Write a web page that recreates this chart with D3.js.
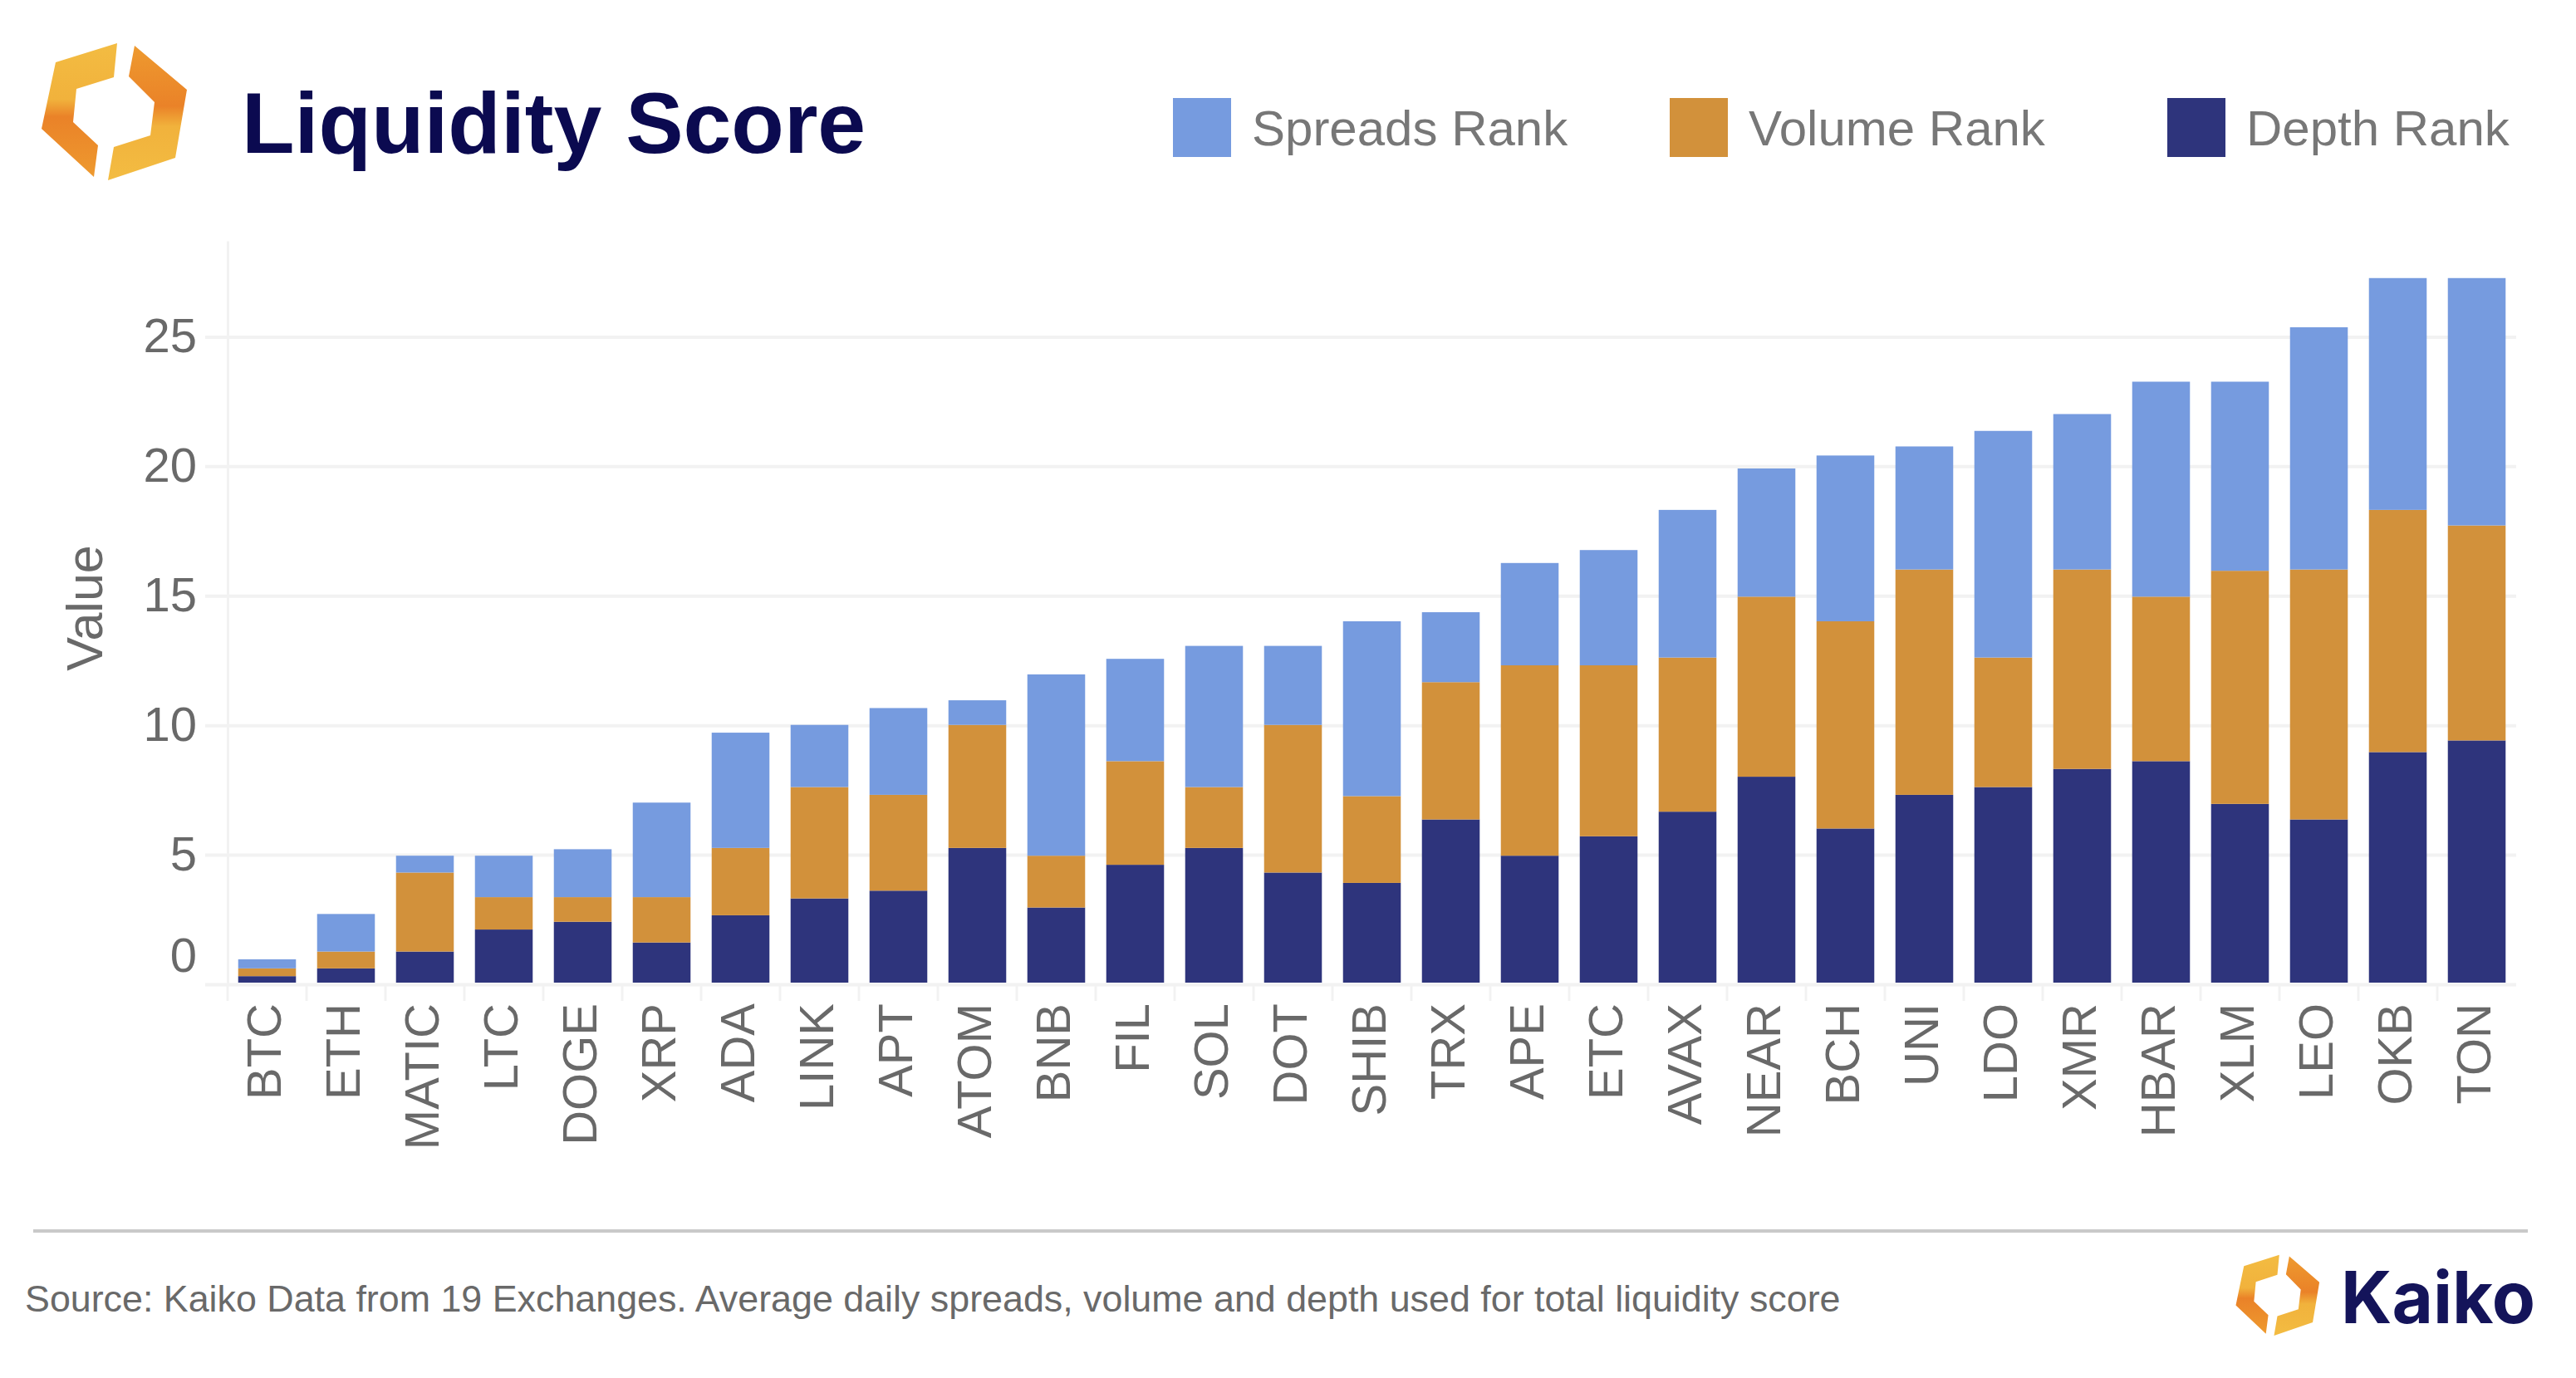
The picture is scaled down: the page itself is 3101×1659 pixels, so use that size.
<!DOCTYPE html>
<html>
<head>
<meta charset="utf-8">
<title>Liquidity Score</title>
<script src="https://cdn.jsdelivr.net/npm/d3@7"></script>
<style>
    body { margin: 0; background: white; }
    text { font-family: "Liberation Sans", Arial, sans-serif; }
</style>
</head>
<body>
<script>
const svg_width = 3101;
const svg_height = 1659;

const tokens = ['BTC', 'ETH', 'MATIC', 'LTC', 'DOGE', 'XRP', 'ADA', 'LINK', 'APT', 'ATOM', 'BNB', 'FIL', 'SOL', 'DOT', 'SHIB',
    'TRX', 'APE', 'ETC', 'AVAX', 'NEAR', 'BCH', 'UNI', 'LDO', 'XMR', 'HBAR', 'XLM', 'LEO', 'OKB', 'TON'];
const depth_rank = [0.25, 0.55, 1.2, 2.05, 2.35, 1.55, 2.6, 3.25, 3.55, 5.2, 2.9, 4.55, 5.2, 4.25, 3.85,
    6.3, 4.9, 5.65, 6.6, 7.95, 5.95, 7.25, 7.55, 8.25, 8.55, 6.9, 6.3, 8.9, 9.35];
const volume_rank = [0.3, 0.65, 3.05, 1.25, 0.95, 1.75, 2.6, 4.3, 3.7, 4.75, 2, 4, 2.35, 5.7, 3.35,
    5.3, 7.35, 6.6, 5.95, 6.95, 8, 8.7, 5, 7.7, 6.35, 9, 9.65, 9.35, 8.3];
const spreads_rank = [0.35, 1.45, 0.65, 1.6, 1.85, 3.65, 4.45, 2.4, 3.35, 0.95, 7, 3.95, 5.45, 3.05, 6.75,
    2.7, 3.95, 4.45, 5.7, 4.95, 6.4, 4.75, 8.75, 6, 8.3, 7.3, 9.35, 8.95, 9.55];
const y_ticks = [0, 5, 10, 15, 20, 25];
const y_max = 28.7;

const series_names = ['Depth Rank', 'Volume Rank', 'Spreads Rank'];
const series_colors = ['#2e347c', '#d2913b', '#769bdf'];
const legend_order = ['Spreads Rank', 'Volume Rank', 'Depth Rank'];

const title = 'Liquidity Score';
const source_text = 'Source: Kaiko Data from 19 Exchanges. Average daily spreads, volume and depth used for total liquidity score';

const grey = '#696969';
const grid_color = '#f2f2f2';

const svg = d3.select('body')
    .append('svg')
    .attr('width', svg_width)
    .attr('height', svg_height)
    .style('display', 'block');

svg.append('rect')
    .attr('width', svg_width)
    .attr('height', svg_height)
    .attr('fill', 'white');

const rows = tokens.map((t, i) => ({
    token: t,
    'Depth Rank': depth_rank[i],
    'Volume Rank': volume_rank[i],
    'Spreads Rank': spreads_rank[i]
}));

const x = d3.scaleBand()
    .domain(tokens)
    .range([274, 3029])
    .paddingInner(0.268)
    .paddingOuter(0.134);

const y = d3.scaleLinear()
    .domain([0, y_max])
    .range([1183, 288]);

const color = d3.scaleOrdinal().domain(series_names).range(series_colors);

// y axis, the ticks double as gridlines
const y_axis = svg.append('g')
    .attr('transform', `translate(274, 2)`)
    .call(d3.axisLeft(y).tickValues(y_ticks).tickSizeOuter(0).tickSizeInner(-(3029 - 274)).tickPadding(37));
y_axis.select('.domain').attr('stroke', grid_color).attr('stroke-width', 3);
y_axis.selectAll('.tick line')
    .attr('x1', -27)
    .attr('stroke', grid_color)
    .attr('stroke-width', 4);
y_axis.selectAll('.tick text')
    .attr('font-size', 58)
    .attr('fill', grey)
    .style('font-family', '"Liberation Sans", Arial, sans-serif');
// the zero label sits above its tick in the original
y_axis.selectAll('.tick text')
    .filter(d => d === 0)
    .attr('y', -34);

// x axis: labels from the band scale, ticks on the band edges
const x_axis = svg.append('g')
    .attr('transform', `translate(0, 1185)`)
    .call(d3.axisBottom(x).tickSize(0));
x_axis.select('.domain').remove();
x_axis.selectAll('.tick text')
    .attr('transform', 'rotate(-90)')
    .attr('text-anchor', 'end')
    .attr('x', -23)
    .attr('y', -4)
    .attr('dy', '0.36em')
    .attr('font-size', 58)
    .attr('fill', grey)
    .style('font-family', '"Liberation Sans", Arial, sans-serif');
x_axis.selectAll('.edge')
    .data(tokens)
    .enter()
    .append('line')
    .attr('class', 'edge')
    .attr('x1', d => x(d) - x.step() * x.paddingInner() / 2)
    .attr('x2', d => x(d) - x.step() * x.paddingInner() / 2)
    .attr('y1', 0)
    .attr('y2', 20)
    .attr('stroke', grid_color)
    .attr('stroke-width', 3);

// stacked bars
const stacked = d3.stack().keys(series_names)(rows);
svg.append('g')
    .selectAll('g')
    .data(stacked)
    .enter()
    .append('g')
    .attr('fill', d => color(d.key))
    .selectAll('rect')
    .data(d => d)
    .enter()
    .append('rect')
    .attr('x', d => x(d.data.token))
    .attr('y', d => y(d[1]))
    .attr('width', x.bandwidth())
    .attr('height', d => y(d[0]) - y(d[1]));

svg.append('text')
    .attr('transform', 'translate(123, 732) rotate(-90)')
    .attr('text-anchor', 'middle')
    .attr('font-size', 61)
    .attr('fill', grey)
    .text('Value');

// legend
const legend_x = [1412, 2010, 2609];
const legend = svg.append('g')
    .selectAll('g')
    .data(legend_order)
    .enter()
    .append('g')
    .attr('transform', (d, i) => `translate(${legend_x[i]}, 118)`);
legend.append('rect')
    .attr('width', 70)
    .attr('height', 71)
    .attr('fill', d => color(d));
legend.append('text')
    .attr('x', 95)
    .attr('y', 57)
    .attr('font-size', 60)
    .attr('fill', '#777')
    .text(d => d);

// logo
const logo_left = [[144, 52], [70, 75], [53, 155], [116, 213], [121, 175], [91, 147], [95, 107], [140, 93]];
const logo_right = [[165, 55], [228, 108], [214, 190], [133, 217], [140, 177], [184, 163], [189, 123], [158, 92]];

const defs = svg.append('defs');
const gradients = [
    {id: 'logo_a', stops: [['0%', '#f3bc42'], ['42%', '#f1b23c'], ['55%', '#ea8228'], ['100%', '#ee9a2f']]},
    {id: 'logo_b', stops: [['0%', '#ee9a2f'], ['45%', '#ea8228'], ['60%', '#f1b23c'], ['100%', '#f3bc42']]}
];
gradients.forEach(g => {
    defs.append('linearGradient')
        .attr('id', g.id)
        .attr('x1', 0).attr('x2', 0).attr('y1', 0).attr('y2', 1)
        .selectAll('stop')
        .data(g.stops)
        .enter()
        .append('stop')
        .attr('offset', d => d[0])
        .attr('stop-color', d => d[1]);
});

function draw_logo(transform) {
    const g = svg.append('g').attr('transform', transform);
    const line = d3.line().curve(d3.curveLinearClosed);
    g.append('path').attr('d', line(logo_left)).attr('fill', 'url(#logo_a)');
    g.append('path').attr('d', line(logo_right)).attr('fill', 'url(#logo_b)');
}
draw_logo('translate(-3, 0)');
draw_logo('translate(2661, 1480) scale(0.575, 0.59)');

svg.append('text')
    .attr('x', 291)
    .attr('y', 184)
    .attr('font-size', 104)
    .attr('font-weight', 'bold')
    .attr('fill', '#0b0a50')
    .text(title);

// footer
svg.append('line')
    .attr('x1', 40)
    .attr('x2', 3043)
    .attr('y1', 1482)
    .attr('y2', 1482)
    .attr('stroke', '#c9c9c9')
    .attr('stroke-width', 4);

svg.append('text')
    .attr('x', 30)
    .attr('y', 1579)
    .attr('font-size', 44.8)
    .attr('fill', grey)
    .text(source_text);

svg.append('text')
    .attr('x', 2818)
    .attr('y', 1593)
    .attr('font-size', 86)
    .attr('font-weight', 'bold')
    .attr('textLength', 234)
    .attr('lengthAdjust', 'spacingAndGlyphs')
    .style('font-family', 'Inter, "Open Sans", sans-serif')
    .attr('fill', '#14145a')
    .text('Kaiko');
</script>
</body>
</html>
